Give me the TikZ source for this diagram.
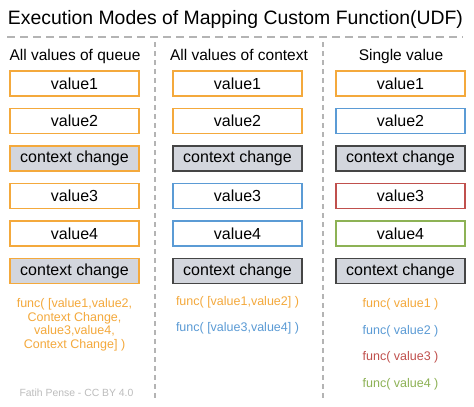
\documentclass[tikz,border=0pt]{standalone}
\usepackage{fontspec}
\setmainfont{Liberation Sans}
\usetikzlibrary{positioning}
\definecolor{udfOrange}{HTML}{F4A93C}
\definecolor{udfBlue}{HTML}{5B9BD5}
\definecolor{udfRed}{HTML}{C0504D}
\definecolor{udfGreen}{HTML}{8DB255}
\definecolor{udfGray}{HTML}{D3D6DD}
\definecolor{udfDark}{HTML}{454545}
\definecolor{udfRule}{HTML}{B4B4B4}
\definecolor{udfMute}{HTML}{BDBDBD}
\tikzset{
    valbox/.style={draw=#1, fill=white, line width=1.2pt, minimum width=129pt, minimum height=25pt, inner sep=0pt, font=\fontsize{16}{19}\selectfont},
    ctxbox/.style={valbox=#1, fill=udfGray},
    functxt/.style={text=#1, inner sep=0pt, font=\fontsize{12.5}{13.7}\selectfont, align=center},
    header/.style={font=\fontsize{15.5}{18}\selectfont, anchor=base, inner sep=0pt},
    sep/.style={udfRule, line width=1.6pt, dash pattern=on 5pt off 4pt},
}

\begin{document}
\begin{tikzpicture}[x=1pt,y=1pt,node distance=11.3pt]
  \useasboundingbox[fill=white] (0,0) rectangle (474,-407);
  % title and rules
  \node[font=\fontsize{19.4}{23}\selectfont, anchor=base, inner sep=0pt] (title) at (235.5,-24) {Execution Modes of Mapping Custom Function(UDF)};
  \coordinate (ruleL) at (7,-36.5);
  \coordinate (ruleR) at (463,-36.5);
  \draw[sep, line width=2pt, dash pattern=on 8pt off 5pt] (ruleL) -- (ruleR);
  \coordinate (sepAtop) at (155,-42);
  \coordinate (sepAbot) at (155,-401);
  \coordinate (sepBtop) at (323,-42);
  \coordinate (sepBbot) at (323,-401);
  \draw[sep] (sepAtop) -- (sepAbot);
  \draw[sep] (sepBtop) -- (sepBbot);

  \node[header] (hq) at (75,-60) {All values of queue};
  \node[header] (hc) at (239,-60) {All values of context};
  \node[header] (hs) at (401,-60) {Single value};

  % all values of queue
  \node[valbox=udfOrange] (q1) at (74.5,-83.5) {value1};
  \node[valbox=udfOrange, below=of q1] (q2) {value2};
  \node[ctxbox=udfOrange, below=of q2] (qcc1) {context change};
  \node[valbox=udfOrange, below=of qcc1] (q3) {value3};
  \node[valbox=udfOrange, below=of q3] (q4) {value4};
  \node[ctxbox=udfOrange, below=of q4] (qcc2) {context change};
  \node[functxt=udfOrange, below=14pt of qcc2] (qf) {func( [value1,value2,\\Context Change,\\value3,value4,\\Context Change] )};

  % all values of context
  \node[valbox=udfOrange] (c1) at (237.5,-83.5) {value1};
  \node[valbox=udfOrange, below=of c1] (c2) {value2};
  \node[ctxbox=udfDark, below=of c2] (ccc1) {context change};
  \node[valbox=udfBlue, below=of ccc1] (c3) {value3};
  \node[valbox=udfBlue, below=of c3] (c4) {value4};
  \node[ctxbox=udfDark, below=of c4] (ccc2) {context change};
  \node[functxt=udfOrange, below=12.5pt of ccc2] (cf1) {func( [value1,value2] )};
  \node[functxt=udfBlue, below=14pt of cf1] (cf2) {func( [value3,value4] )};

  % single value
  \node[valbox=udfOrange] (s1) at (400.5,-83.5) {value1};
  \node[valbox=udfBlue, below=of s1] (s2) {value2};
  \node[ctxbox=udfDark, below=of s2] (scc1) {context change};
  \node[valbox=udfRed, below=of scc1] (s3) {value3};
  \node[valbox=udfGreen, below=of s3] (s4) {value4};
  \node[ctxbox=udfDark, below=of s4] (scc2) {context change};
  \node[functxt=udfOrange, below=14pt of scc2] (sf1) {func( value1 )};
  \node[functxt=udfBlue, below=14.6pt of sf1] (sf2) {func( value2 )};
  \node[functxt=udfRed, below=14.6pt of sf2] (sf3) {func( value3 )};
  \node[functxt=udfGreen, below=14.6pt of sf3] (sf4) {func( value4 )};

  \node[text=udfMute, font=\fontsize{10.4}{12}\selectfont] (credit) at (76.5,-393) {Fatih Pense - CC BY 4.0};
\end{tikzpicture}
\end{document}
